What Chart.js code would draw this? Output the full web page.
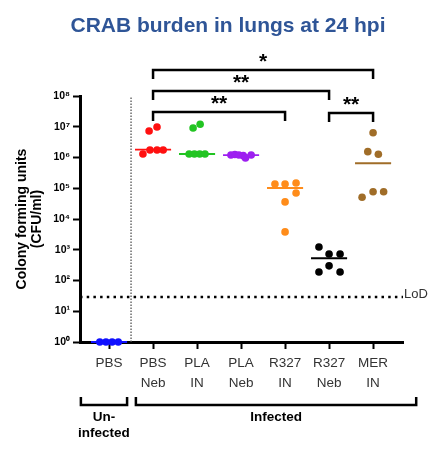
<!DOCTYPE html>
<html>
<head>
<meta charset="utf-8">
<script src="https://cdn.jsdelivr.net/npm/chart.js@4.4.1/dist/chart.umd.min.js"></script>
<style>
  html, body { margin: 0; padding: 0; background: #fff; }
  #wrap { width: 428px; height: 453px; }
</style>
</head>
<body>
<div id="wrap"><canvas id="chart"></canvas></div>
<script>
/* ─── Data ─────────────────────────────────────────────────────── */

const TITLE = 'CRAB burden in lungs at 24 hpi';
const Y_TITLE = ['Colony forming units', '(CFU/ml)'];
const GROUP_LABELS = [['PBS'], ['PBS', 'Neb'], ['PLA', 'IN'], ['PLA', 'Neb'], ['R327', 'IN'], ['R327', 'Neb'], ['MER', 'IN']];
const Y_TICKS = [1, 1e1, 1e2, 1e3, 1e4, 1e5, 1e6, 1e7, 1e8];
const Y_TICK_LABELS = ['10⁰', '10¹', '10²', '10³', '10⁴', '10⁵', '10⁶', '10⁷', '10⁸'];

// CFU/ml per animal
const pbs     = [1, 1, 1, 1];
const pbsNeb  = [1.3e6, 1.75e6, 1.75e6, 1.75e6, 7.3e6, 9.8e6];
const plaIN   = [1.3e6, 1.3e6, 1.3e6, 1.3e6, 9.1e6, 1.2e7];
const plaNeb  = [1.2e6, 1.25e6, 1.2e6, 1.15e6, 9.6e5, 1.2e6];
const r327IN  = [1.38e5, 1.38e5, 1.48e5, 7.0e4, 3.6e4, 3.8e3];
const r327Neb = [1.23e3, 7.3e2, 7.3e2, 1.9e2, 3.0e2, 1.9e2];
const merIN   = [6.4e6, 1.55e6, 1.27e6, 5.1e4, 7.7e4, 7.7e4];

// horizontal scatter of the dots (category units)
const pbsJit     = [-0.21, -0.07, 0.07, 0.21];
const pbsNebJit  = [-0.23, -0.07, 0.09, 0.23, -0.09, 0.09];
const plaINJit   = [-0.18, -0.06, 0.06, 0.18, -0.09, 0.07];
const plaNebJit  = [-0.23, -0.14, -0.05, 0.05, 0.1, 0.23];
const r327INJit  = [-0.23, 0, 0.25, 0.25, 0, 0];
const r327NebJit = [-0.23, 0, 0.25, -0.23, 0, 0.25];
const merINJit   = [0, -0.12, 0.12, -0.25, 0, 0.24];

const MEDIANS = [1, 1.8e6, 1.3e6, 1.2e6, 1.02e5, 5.3e2, 6.5e5];
const LOD = 29;

// significance brackets: [from group, to group, label]
const COMPARISONS = [[1, 6, '*'], [1, 5, '**'], [1, 4, '**'], [5, 6, '**']];
// lower group brackets: [from, to, label lines]
const COHORTS = [[-0.64, 0.41, ['Un-', 'infected']], [0.61, 6.98, ['Infected']]];

const COLORS = ['#1010ff', '#ff1010', '#22c422', '#9d1ff0', '#ff8c1a', '#000000', '#a06d28'];

/* ─── Chart ────────────────────────────────────────────────────── */

const FONT = '"Liberation Sans", Arial, sans-serif';
const series = [pbs, pbsNeb, plaIN, plaNeb, r327IN, r327Neb, merIN];
const jitters = [pbsJit, pbsNebJit, plaINJit, plaNebJit, r327INJit, r327NebJit, merINJit];

const dotSets = series.map((vals, i) => ({
  data: vals.map((v, j) => ({ x: i + jitters[i][j], y: v })),
  backgroundColor: COLORS[i], borderWidth: 0,
  pointRadius: 3.8, clip: false, order: 1,
}));

const medianSets = MEDIANS.map((m, i) => ({
  data: [{ x: i - 0.41, y: m }, { x: i + 0.41, y: m }],
  showLine: true, borderColor: COLORS[i], borderWidth: 1.8,
  pointRadius: 0, clip: false, order: 2,
}));

const lodSet = {
  data: [{ x: -0.66, y: LOD }, { x: 6.68, y: LOD }],
  showLine: true, borderColor: '#000', borderWidth: 2.5, borderDash: [2.5, 4.2],
  pointRadius: 0, order: 3,
};

const dividerSet = {
  data: [{ x: 0.5, y: 1 }, { x: 0.5, y: 1e8 }],
  showLine: true, borderColor: '#555', borderWidth: 1.3, borderDash: [1.4, 1.6],
  pointRadius: 0, order: 3,
};

const annotations = {
  id: 'annotations',
  afterDraw(chart) {
    const { ctx, chartArea, scales: { x, y } } = chart;
    ctx.save();

    ctx.font = `bold 21px ${FONT}`;
    ctx.fillStyle = '#2f5597';
    ctx.textAlign = 'center';
    ctx.textBaseline = 'middle';
    ctx.fillText(TITLE, 228, 26);

    // significance brackets
    const rowY = [chartArea.top - 26, chartArea.top - 5, chartArea.top + 16, chartArea.top + 17];
    ctx.strokeStyle = '#000';
    ctx.fillStyle = '#000';
    ctx.lineWidth = 2.5;
    ctx.lineJoin = 'miter';
    COMPARISONS.forEach(([a, b, label], k) => {
      const x1 = x.getPixelForValue(a), x2 = x.getPixelForValue(b), yy = rowY[k];
      ctx.beginPath();
      ctx.moveTo(x1, yy + 9); ctx.lineTo(x1, yy); ctx.lineTo(x2, yy); ctx.lineTo(x2, yy + 9);
      ctx.stroke();
      ctx.font = `bold 21px ${FONT}`;
      ctx.textBaseline = 'alphabetic';
      ctx.fillText(label, (x1 + x2) / 2, yy - 2);
    });

    // LoD label
    ctx.font = `13px ${FONT}`;
    ctx.fillStyle = '#333';
    ctx.textAlign = 'left';
    ctx.textBaseline = 'alphabetic';
    ctx.fillText('LoD', x.right + 1, y.getPixelForValue(LOD) + 1);

    // cohort brackets under the axis
    const by = chartArea.bottom + 63;
    ctx.fillStyle = '#000';
    ctx.textAlign = 'center';
    ctx.textBaseline = 'middle';
    ctx.font = `bold 13.5px ${FONT}`;
    COHORTS.forEach(([a, b, lines]) => {
      const x1 = x.getPixelForValue(a), x2 = x.getPixelForValue(b);
      ctx.beginPath();
      ctx.moveTo(x1, by - 8); ctx.lineTo(x1, by); ctx.lineTo(x2, by); ctx.lineTo(x2, by - 8);
      ctx.stroke();
      lines.forEach((t, li) => ctx.fillText(t, (x1 + x2) / 2, by + 12 + li * 16));
    });

    ctx.restore();
  }
};

new Chart(document.getElementById('chart'), {
  type: 'scatter',
  data: { datasets: [...dotSets, ...medianSets, lodSet, dividerSet] },
  options: {
    responsive: true, maintainAspectRatio: false, animation: false,
    layout: { padding: { top: 96, right: 25, left: 0, bottom: 0 } },
    plugins: { legend: { display: false }, tooltip: { enabled: false } },
    scales: {
      x: {
        type: 'linear', min: -0.66, max: 6.68,
        afterBuildTicks: s => { s.ticks = GROUP_LABELS.map((_, i) => ({ value: i })); },
        afterFit: s => { s.height = 111; },
        grid: { drawOnChartArea: false, drawTicks: true, tickLength: 7, tickWidth: 2, color: '#000' },
        border: { display: true, width: 3, color: '#000' },
        ticks: {
          autoSkip: false, maxRotation: 0, padding: 4, color: '#333',
          font: { family: FONT, size: 13.5, lineHeight: 1.48 },
          callback: v => GROUP_LABELS[v],
        },
      },
      y: {
        type: 'logarithmic', min: 1, max: 1e8,
        afterBuildTicks: s => { s.ticks = Y_TICKS.map(v => ({ value: v, major: true })); },
        afterFit: s => { s.width = 80; },
        grid: { drawOnChartArea: false, drawTicks: true, tickLength: 7, tickWidth: 2, color: '#000' },
        border: { display: true, width: 3, color: '#000' },
        ticks: {
          padding: 3, color: '#000',
          font: { family: FONT, size: 10.5, weight: 'bold' },
          callback: v => Y_TICK_LABELS[Y_TICKS.indexOf(v)],
        },
        title: {
          display: true, text: Y_TITLE, color: '#000',
          font: { family: FONT, size: 14, weight: 'bold', lineHeight: 1.1 },
          padding: { top: 14, bottom: 0 },
        },
      },
    },
  },
  plugins: [annotations],
});
</script>
</body>
</html>
